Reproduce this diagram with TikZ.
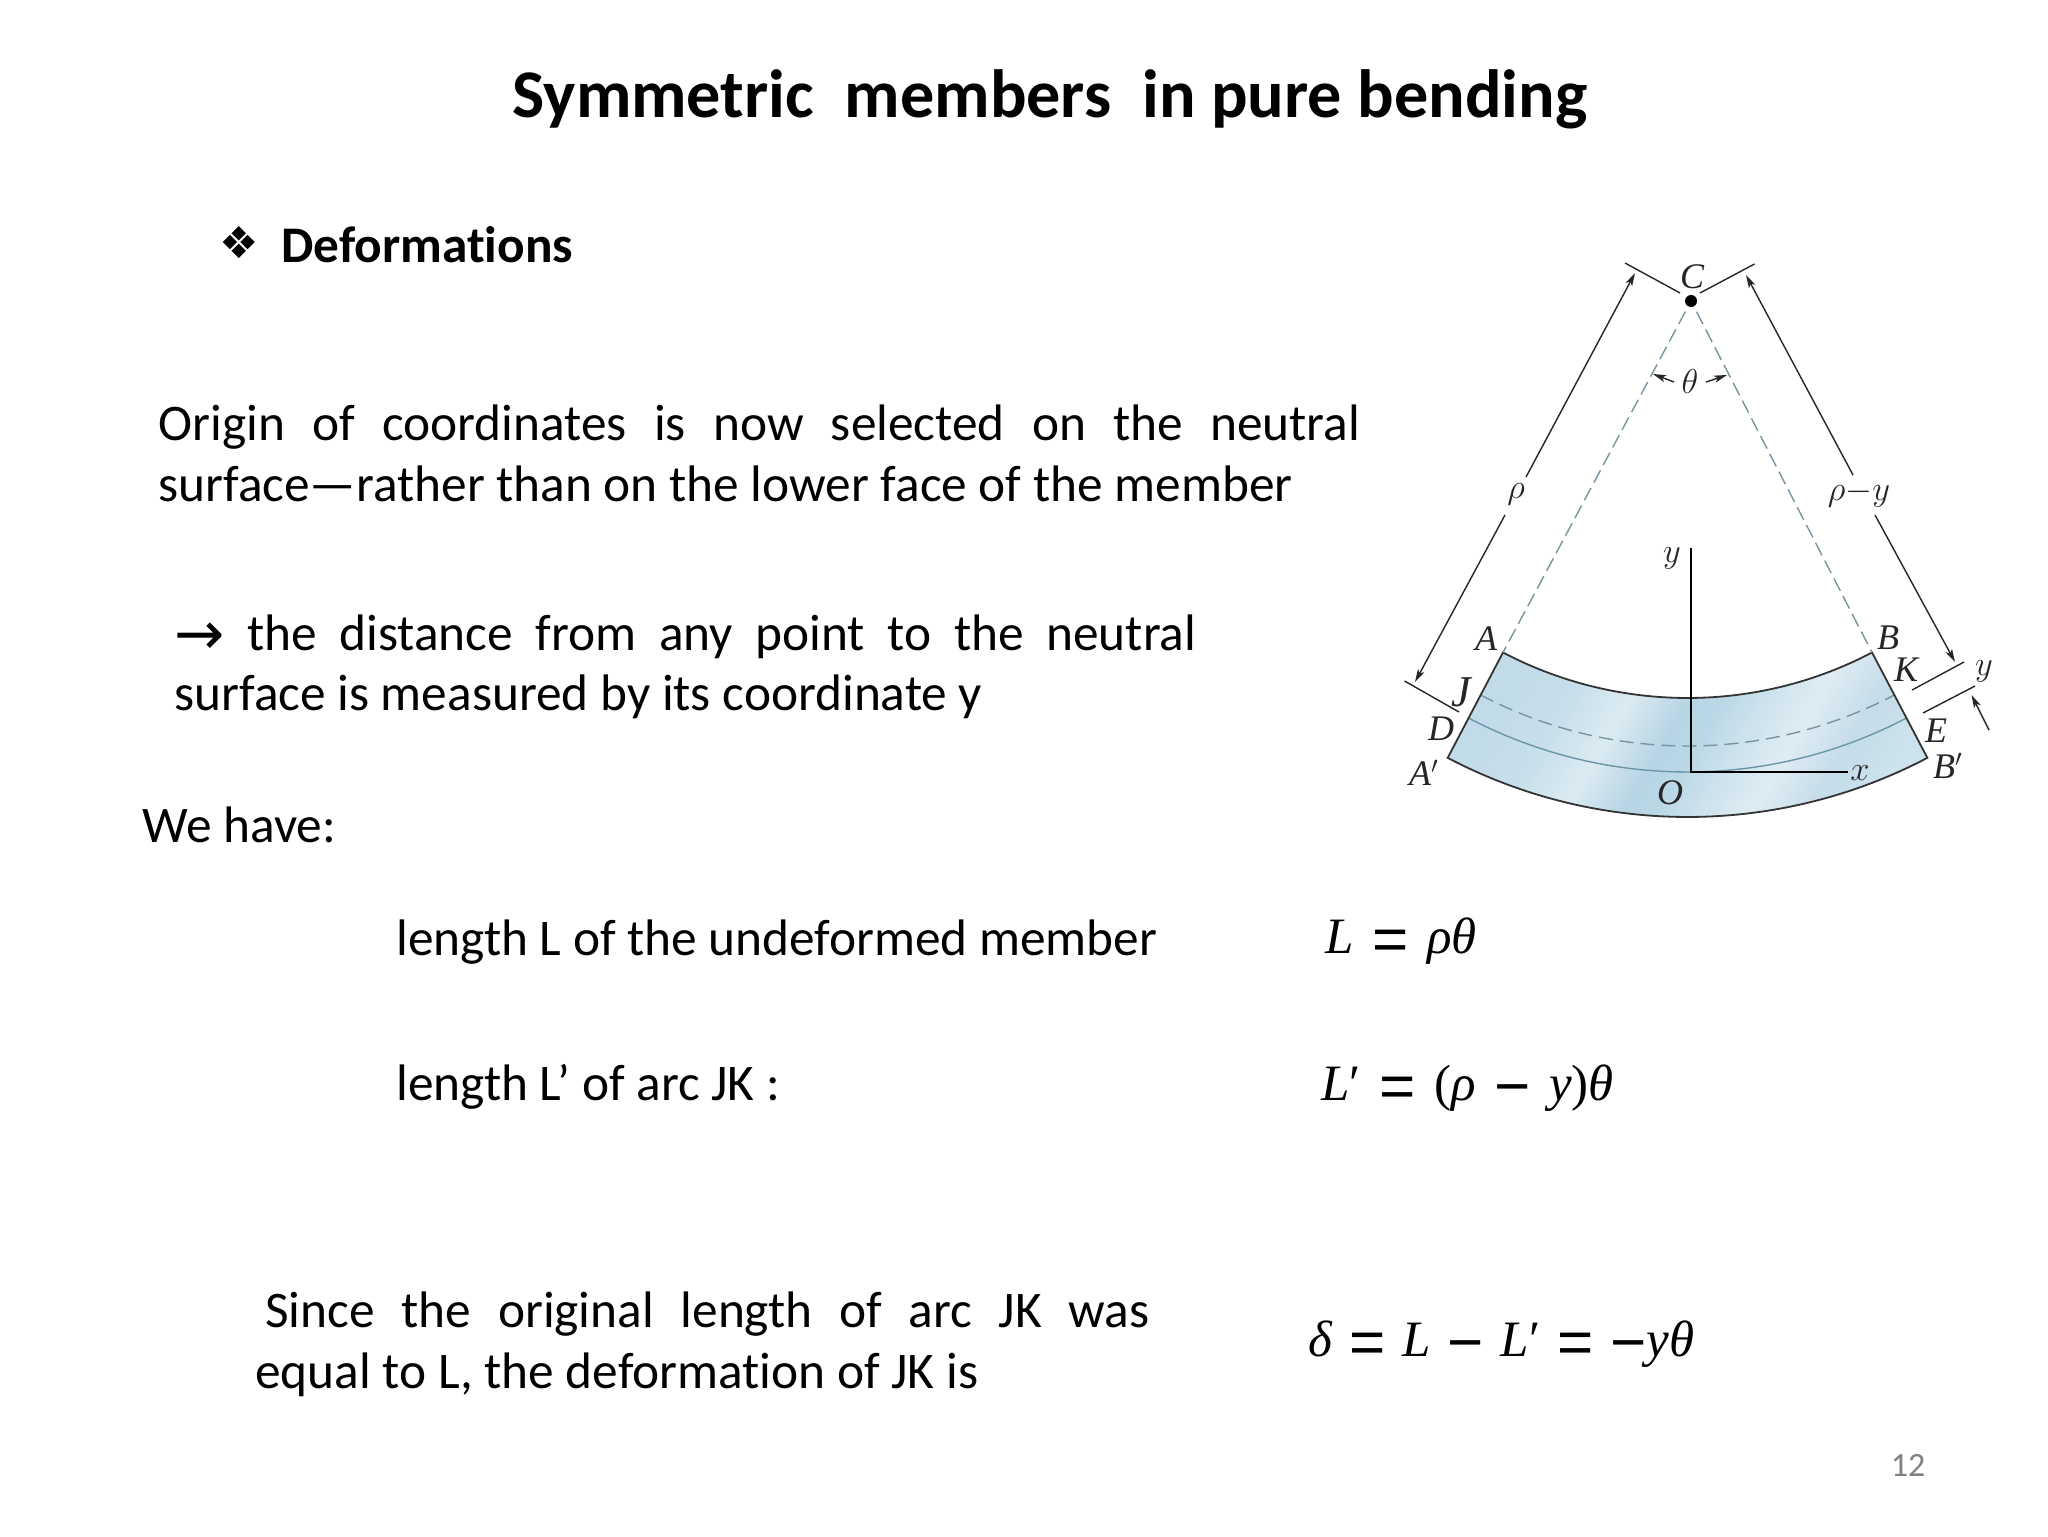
\documentclass[tikz,border=0pt]{standalone}
\usepackage{fontspec}
\setmainfont{Carlito}[Ligatures=NoCommon]
\newfontfamily\figfont{Liberation Serif}
\newfontfamily\opfont{Liberation Sans}
\newfontfamily\symfont{DejaVu Sans}
\usetikzlibrary{calc,arrows.meta}
\pgfdeclarehorizontalshading{bandfill}{100bp}{
 rgb(0bp)=(0.76,0.86,0.91);
 rgb(25bp)=(0.76,0.86,0.91);
 rgb(33bp)=(0.78,0.875,0.92);
 rgb(40bp)=(0.86,0.92,0.95);
 rgb(47bp)=(0.72,0.835,0.895);
 rgb(51bp)=(0.73,0.845,0.90);
 rgb(55bp)=(0.79,0.88,0.925);
 rgb(62bp)=(0.875,0.925,0.955);
 rgb(69bp)=(0.77,0.865,0.915);
 rgb(75bp)=(0.80,0.885,0.925);
 rgb(100bp)=(0.80,0.885,0.925)}
\definecolor{dashcol}{RGB}{118,150,158}
\definecolor{neutcol}{RGB}{106,150,165}
\tikzset{
 fig/.style={line width=0.7pt,draw=black!85},
 dim/.style={fig,-{Stealth[length=6.5pt,width=3.6pt,inset=1.6pt]}},
 neutdash/.style={line width=0.7pt,draw=dashcol,dash pattern=on 7pt off 3.5pt},
 lab/.style={font=\fontsize{18}{20}\selectfont\figfont\itshape,text=black!85,inner sep=0pt},
 mlab/.style={font=\fontsize{19}{22}\selectfont,text=black!85,inner sep=0pt},
 body/.style={font=\fontsize{25.67}{30}\selectfont,anchor=base west,inner sep=0pt},
 formula/.style={font=\fontsize{25.5}{30}\selectfont\figfont,anchor=base west,inner sep=0pt}
}
\newcommand{\mi}[1]{{\itshape #1}}
\newcommand{\gp}{\hspace{2.9pt}}
\newcommand{\gq}{\hspace{2.1pt}}
\newcommand{\opr}[1]{\raisebox{-3.5pt}{\opfont\fontsize{31}{31}\selectfont #1}}
\begin{document}
\begin{tikzpicture}[x=0.5pt,y=-0.5pt]
\useasboundingbox (0,0) rectangle (2048,1536);
\fill[white] (0,0) rectangle (2048,1536);
% texts
\node[anchor=base,inner sep=0pt,font=\fontsize{34.1}{40}\selectfont\bfseries] (title) at (1050,118) {Symmetric\ \ members\ \ in pure bending};
\node[anchor=base west,inner sep=0pt,font=\fontsize{22}{24}\selectfont\symfont] (bul) at (219,258) {❖};
\node[body,font=\fontsize{25.67}{30}\selectfont\bfseries] (defo) at (281,262) {Deformations};
\node[body] (t1a) at (158,440) {\makebox[601pt][s]{Origin of coordinates is now selected on the neutral}};
\node[body] (t1b) at (158,501) {surface—rather than on the lower face of the member};
\node[body] (t2a) at (174,650) {\makebox[511pt][s]{\raisebox{-2pt}{\symfont\fontsize{30}{30}\selectfont →} the distance from any point to the neutral}};
\node[body] (t2b) at (174,710) {surface is measured by its coordinate y};
\node[body] (t3) at (142,842) {We have:};
\node[body] (t4) at (396,955) {length L of the undeformed member};
\node[body] (t5) at (396,1100) {length L’ of arc JK :};
\node[body] (t6a) at (265,1327) {\makebox[442pt][s]{Since the original length of arc JK was}};
\node[body] (t6b) at (255,1388) {equal to L, the deformation of JK is};
\node[formula] (f1) at (1325,953) {\mi{L}\gp{} \opr{=} \gp\mi{ρθ}};
\node[formula] (f2) at (1321,1100) {\mi{L}′\gp{} \opr{=} \gp(\mi{ρ}\gp{} \opr{−} \gp\mi{y})\mi{θ}};
\node[formula] (f3) at (1308,1356) {\mi{δ}\gq{} \opr{=} \gq\mi{L}\gq{} \opr{−} \gq\mi{L}′\gq{} \opr{=} \gq\opr{−}\mi{yθ}};
\node[anchor=base,inner sep=0pt,font=\fontsize{17}{20}\selectfont,text=black!50] (pg) at (1908,1476) {12};
% figure geometry
\coordinate (C) at (1691,301);
\coordinate (Cb) at (1687.5,301);
\coordinate (A) at ($(Cb)+(242.3:198.5pt)$);
\coordinate (B) at ($(Cb)+(297.7:198.5pt)$);
\coordinate (Ap) at ($(Cb)+(242.3:258pt)$);
\coordinate (Bp) at ($(Cb)+(297.7:258pt)$);
\coordinate (J) at ($(Cb)+(242.3:222.5pt)$);
\coordinate (Dd) at ($(Cb)+(242.3:235.5pt)$);
\coordinate (Od) at (1691,772);
% band
\path[shading=bandfill,shading angle=-30] (A) arc[start angle=242.3,end angle=297.7,radius=198.5pt] -- (Bp) arc[start angle=297.7,end angle=242.3,radius=258pt] -- cycle;
\draw[neutdash] (J) arc[start angle=242.3,end angle=297.7,radius=222.5pt];
\draw[line width=0.7pt,neutcol] (Dd) arc[start angle=242.3,end angle=297.7,radius=235.5pt];
\draw[line width=0.9pt,black!80,line join=miter] (A) arc[start angle=242.3,end angle=297.7,radius=198.5pt] -- (Bp) arc[start angle=297.7,end angle=242.3,radius=258pt] -- cycle;
% axes
\coordinate (ytop) at (1691,548);
\coordinate (xend) at (1847.5,772);
\draw[line width=1pt,black] (ytop) -- (Od) -- (xend);
% dashed radii
\draw[neutdash,dash pattern=on 7pt off 3pt] ($(C)!6pt!(A)$) -- (A);
\draw[neutdash,dash pattern=on 7pt off 3pt] ($(C)!6pt!(B)$) -- (B);
\fill[black] (C) circle[radius=3pt];
% ticks
\coordinate (tl1) at (1625,263); \coordinate (tl2) at (1680,293);
\coordinate (tr1) at (1754.5,264); \coordinate (tr2) at (1700,293);
\draw[fig] (tl1) -- (tl2);
\draw[fig] (tr1) -- (tr2);
\coordinate (bl1) at (1404.5,681); \coordinate (bl2) at (1459,712);
\draw[fig] (bl1) -- (bl2);
\coordinate (k1) at (1964,662); \coordinate (k2) at (1912,690);
\draw[fig] (k1) -- (k2);
\coordinate (e1) at (1975,686); \coordinate (e2) at (1923,713);
\draw[fig] (e1) -- (e2);
% dimension arrows
\coordinate (rl1) at (1526,477); \coordinate (rl2) at (1505,515);
\coordinate (rltip) at (1635,273); \coordinate (rlbot) at (1415,682);
\draw[dim] (rl1) -- (rltip);
\draw[dim] (rl2) -- (rlbot);
\coordinate (rr1) at (1853,475); \coordinate (rr2) at (1875,515);
\coordinate (rrtip) at (1746,275); \coordinate (rrbot) at (1955,662);
\draw[dim] (rr1) -- (rrtip);
\draw[dim] (rr2) -- (rrbot);
\coordinate (ys) at (1989,730); \coordinate (yt) at (1971.5,695);
\draw[dim] (ys) -- (yt);
% theta
\coordinate (thl0) at (1674,382); \coordinate (thl) at (1653,374);
\coordinate (thr0) at (1706,382); \coordinate (thr) at (1727,375);
\draw[dim] (thl0) -- (thl);
\draw[dim] (thr0) -- (thr);
% labels
\node[lab] (lC) at (1692,277) {C};
\node[mlab] (lth) at (1690,381) {$\theta$};
\node[mlab] (lrho) at (1516,494) {$\rho$};
\node[mlab] (lrhoy) at (1859,494) {$\rho{-}y$};
\node[mlab] (ly) at (1672,558) {$y$};
\node[mlab] (lx) at (1860,773) {$x$};
\node[lab] (lO) at (1670,793) {O};
\node[lab] (lA) at (1486,639) {A};
\node[lab] (lB) at (1888,638) {B};
\node[lab,font=\fontsize{22}{24}\selectfont\figfont\itshape] (lJ) at (1461,692) {J};
\node[lab] (lK) at (1906,670) {K};
\node[lab] (lD) at (1441,729) {D};
\node[lab] (lE) at (1936,731) {E};
\node[lab] (lAp) at (1424,773) {A$'$};
\node[lab] (lBp) at (1948,766) {B$'$};
\node[mlab] (ly2) at (1984,671) {$y$};
\end{tikzpicture}
\end{document}
